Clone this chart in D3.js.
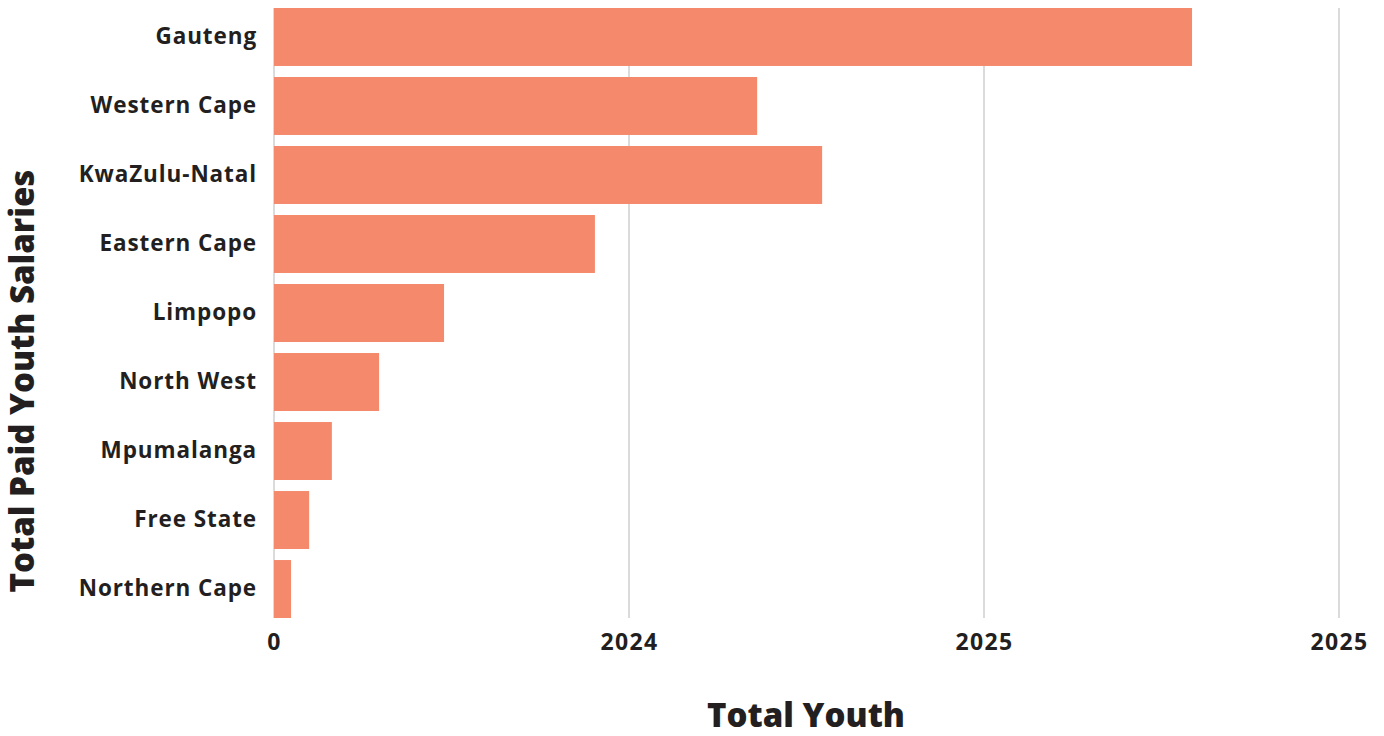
<!DOCTYPE html>
<html>
<head>
<meta charset="utf-8">
<script src="https://cdn.jsdelivr.net/npm/d3@7"></script>
<style>
  html, body { margin: 0; padding: 0; background: #fff; }
  svg { display: block; font-family: "Open Sans", "Noto Sans", sans-serif; }
</style>
</head>
<body>
<svg id="chart" width="1384" height="736"></svg>
<script>
// Provinces, top to bottom
const provinces = ["Gauteng", "Western Cape", "KwaZulu-Natal", "Eastern Cape", "Limpopo",
  "North West", "Mpumalanga", "Free State", "Northern Cape"];
// Total paid youth salaries per province
const totals = [2586, 1361, 1544, 904, 479, 296, 163, 99, 48];
// Axis ticks and the labels printed under them
const tickValues = [0, 1000, 2000, 3000];
const tickLabels = ["0", "2024", "2025", "2025"];

const svg = d3.select("#chart");
const margin = { left: 274, right: 45, top: 8, bottom: 118 };
const width = 1384, height = 736;
const textColor = "#231f20";
const fontStack = "'Open Sans', 'Noto Sans', sans-serif";

const x = d3.scaleLinear().domain([0, 3000]).range([margin.left, width - margin.right]);
const y = d3.scaleBand().domain(provinces)
  .range([margin.top, height - margin.bottom]).paddingInner(0.16).paddingOuter(0);

// vertical gridlines
svg.append("g").selectAll("line").data(tickValues).join("line")
  .attr("x1", d => x(d)).attr("x2", d => x(d))
  .attr("y1", margin.top).attr("y2", height - margin.bottom)
  .attr("stroke", "#cfcfcf").attr("stroke-width", 1.5);

// bars
const rows = provinces.map((p, i) => ({ p, v: totals[i] }));
svg.append("g").selectAll("rect").data(rows).join("rect")
  .attr("x", x(0))
  .attr("y", d => y(d.p))
  .attr("width", d => x(d.v) - x(0))
  .attr("height", y.bandwidth())
  .attr("fill", "#f4896b");

// category axis
const yAxis = svg.append("g")
  .attr("transform", `translate(${x(0) - 17},0)`)
  .call(d3.axisLeft(y).tickSize(0).tickPadding(0))
  .attr("font-family", fontStack);
yAxis.select(".domain").remove();
yAxis.selectAll("text")
  .attr("fill", textColor)
  .style("font-size", "22.5px").style("font-weight", 700)
  .style("letter-spacing", "0.9px");

// value axis
const xAxis = svg.append("g")
  .attr("transform", `translate(0,${height - margin.bottom})`)
  .call(d3.axisBottom(x).tickValues(tickValues)
    .tickFormat((d, i) => tickLabels[i]).tickSize(0).tickPadding(16))
  .attr("font-family", fontStack);
xAxis.select(".domain").remove();
xAxis.selectAll("text")
  .attr("fill", textColor)
  .style("font-size", "23px").style("font-weight", 700)
  .style("letter-spacing", "1.4px");

// axis titles
svg.append("text")
  .attr("x", 806).attr("y", 727)
  .attr("text-anchor", "middle")
  .attr("fill", textColor)
  .style("font-size", "33px").style("font-weight", 800)
  .text("Total Youth");

svg.append("text")
  .attr("transform", "translate(34,381) rotate(-90)")
  .attr("text-anchor", "middle")
  .attr("fill", textColor)
  .style("font-size", "33px").style("font-weight", 800)
  .text("Total Paid Youth Salaries");
</script>
</body>
</html>
